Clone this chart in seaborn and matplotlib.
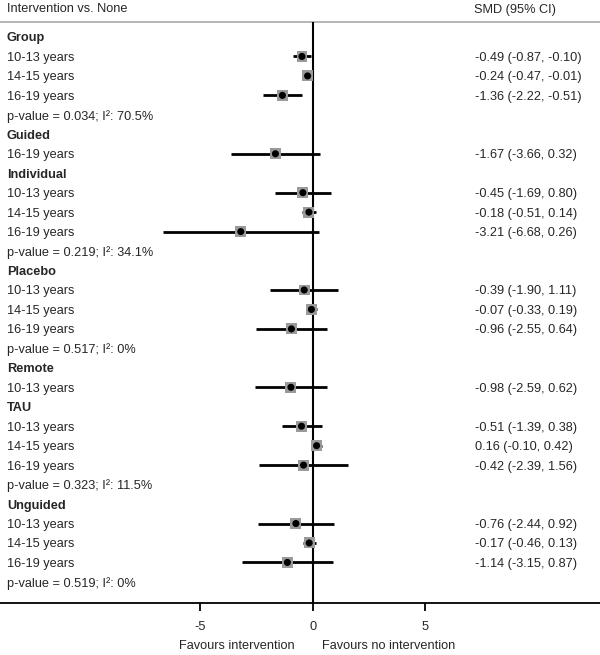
import pandas as pd
import matplotlib
matplotlib.use("Agg")
import matplotlib.pyplot as plt
import seaborn as sns

sns.set_style("white")
plt.rcParams["font.family"] = ["Liberation Sans", "DejaVu Sans"]

groups = ["Group", "Guided", "Individual", "Placebo", "Remote", "TAU", "Unguided"]
ages = [
    ["10-13 years", "14-15 years", "16-19 years"],
    ["16-19 years"],
    ["10-13 years", "14-15 years", "16-19 years"],
    ["10-13 years", "14-15 years", "16-19 years"],
    ["10-13 years"],
    ["10-13 years", "14-15 years", "16-19 years"],
    ["10-13 years", "14-15 years", "16-19 years"],
]
smd = [
    [-0.49, -0.24, -1.36],
    [-1.67],
    [-0.45, -0.18, -3.21],
    [-0.39, -0.07, -0.96],
    [-0.98],
    [-0.51, 0.16, -0.42],
    [-0.76, -0.17, -1.14],
]
lower = [
    [-0.87, -0.47, -2.22],
    [-3.66],
    [-1.69, -0.51, -6.68],
    [-1.90, -0.33, -2.55],
    [-2.59],
    [-1.39, -0.10, -2.39],
    [-2.44, -0.46, -3.15],
]
upper = [
    [-0.10, -0.01, -0.51],
    [0.32],
    [0.80, 0.14, 0.26],
    [1.11, 0.19, 0.64],
    [0.62],
    [0.38, 0.42, 1.56],
    [0.92, 0.13, 0.87],
]
pvalues = ["0.034", None, "0.219", "0.517", None, "0.323", "0.519"]
i2 = ["70.5%", None, "34.1%", "0%", None, "11.5%", "0%"]

# build the table of rows
rows = []
for g, grp in enumerate(groups):
    rows.append(dict(kind="header", label=grp))
    for a, age in enumerate(ages[g]):
        rows.append(dict(kind="study", label=age, smd=smd[g][a],
                         lo=lower[g][a], hi=upper[g][a]))
    if pvalues[g] is not None:
        rows.append(dict(kind="het", label=f"p-value = {pvalues[g]}; I\u00b2: {i2[g]}"))
df = pd.DataFrame(rows)
df["row"] = range(len(df))
studies = df[df["kind"] == "study"]

fig = plt.figure(figsize=(6, 6.55), dpi=100)
ax = fig.add_axes([0, 0, 1, 1])
px = 22.5  # pixels per SMD unit
x0 = 313
step = 19.46
y0 = 37
ax.set_xlim(-x0 / px, (600 - x0) / px)
ax.set_ylim((655 - y0) / step, -y0 / step)
ax.axis("off")

axis_row = (603 - y0) / step
top_row = (22 - y0) / step
xl = ax.get_xlim()
fs = 9.2

# separator and axis lines
ax.hlines(top_row, xl[0], xl[1], color="#a8a8a8", lw=1.2)
ax.hlines(axis_row, xl[0], xl[1], color="black", lw=1.3)
ax.vlines(0, top_row, axis_row, color="black", lw=1.5)
for t in [-5, 0, 5]:
    ax.vlines(t, axis_row, axis_row + 0.4, color="black", lw=1.3)
    ax.text(t, (627 - y0) / step, str(t), ha="center", va="center", fontsize=fs)
ax.text(-0.8, (646 - y0) / step, "Favours intervention", ha="right", va="center", fontsize=fs)
ax.text(0.4, (646 - y0) / step, "Favours no intervention", ha="left", va="center", fontsize=fs)

# header
ax.text((7 - x0) / px, (8 - y0) / step, "Intervention vs. None", ha="left", va="center_baseline", fontsize=fs)
ax.text((474 - x0) / px, (8 - y0) / step, "SMD (95% CI)", ha="left", va="center_baseline", fontsize=fs)

# confidence intervals and point estimates
ax.hlines(studies["row"], studies["lo"], studies["hi"], color="black", lw=2.0, zorder=2)
sns.scatterplot(data=studies, x="smd", y="row", marker="s", s=62, color="#9a9a9a",
                edgecolor="none", ax=ax, zorder=3, legend=False)
sns.scatterplot(data=studies, x="smd", y="row", marker="o", s=26, color="black",
                edgecolor="none", ax=ax, zorder=4, legend=False)

lab_x = (7 - x0) / px
val_x = (475 - x0) / px
for _, r in df.iterrows():
    weight = "bold" if r["kind"] == "header" else "normal"
    ax.text(lab_x, r["row"], r["label"], ha="left", va="center_baseline", fontsize=fs, fontweight=weight)
    if r["kind"] == "study":
        ax.text(val_x, r["row"], f"{r['smd']:.2f} ({r['lo']:.2f}, {r['hi']:.2f})",
                ha="left", va="center_baseline", fontsize=fs)

ax.set_xlabel("")
ax.set_ylabel("")
fig.savefig("out.png", dpi=100)
